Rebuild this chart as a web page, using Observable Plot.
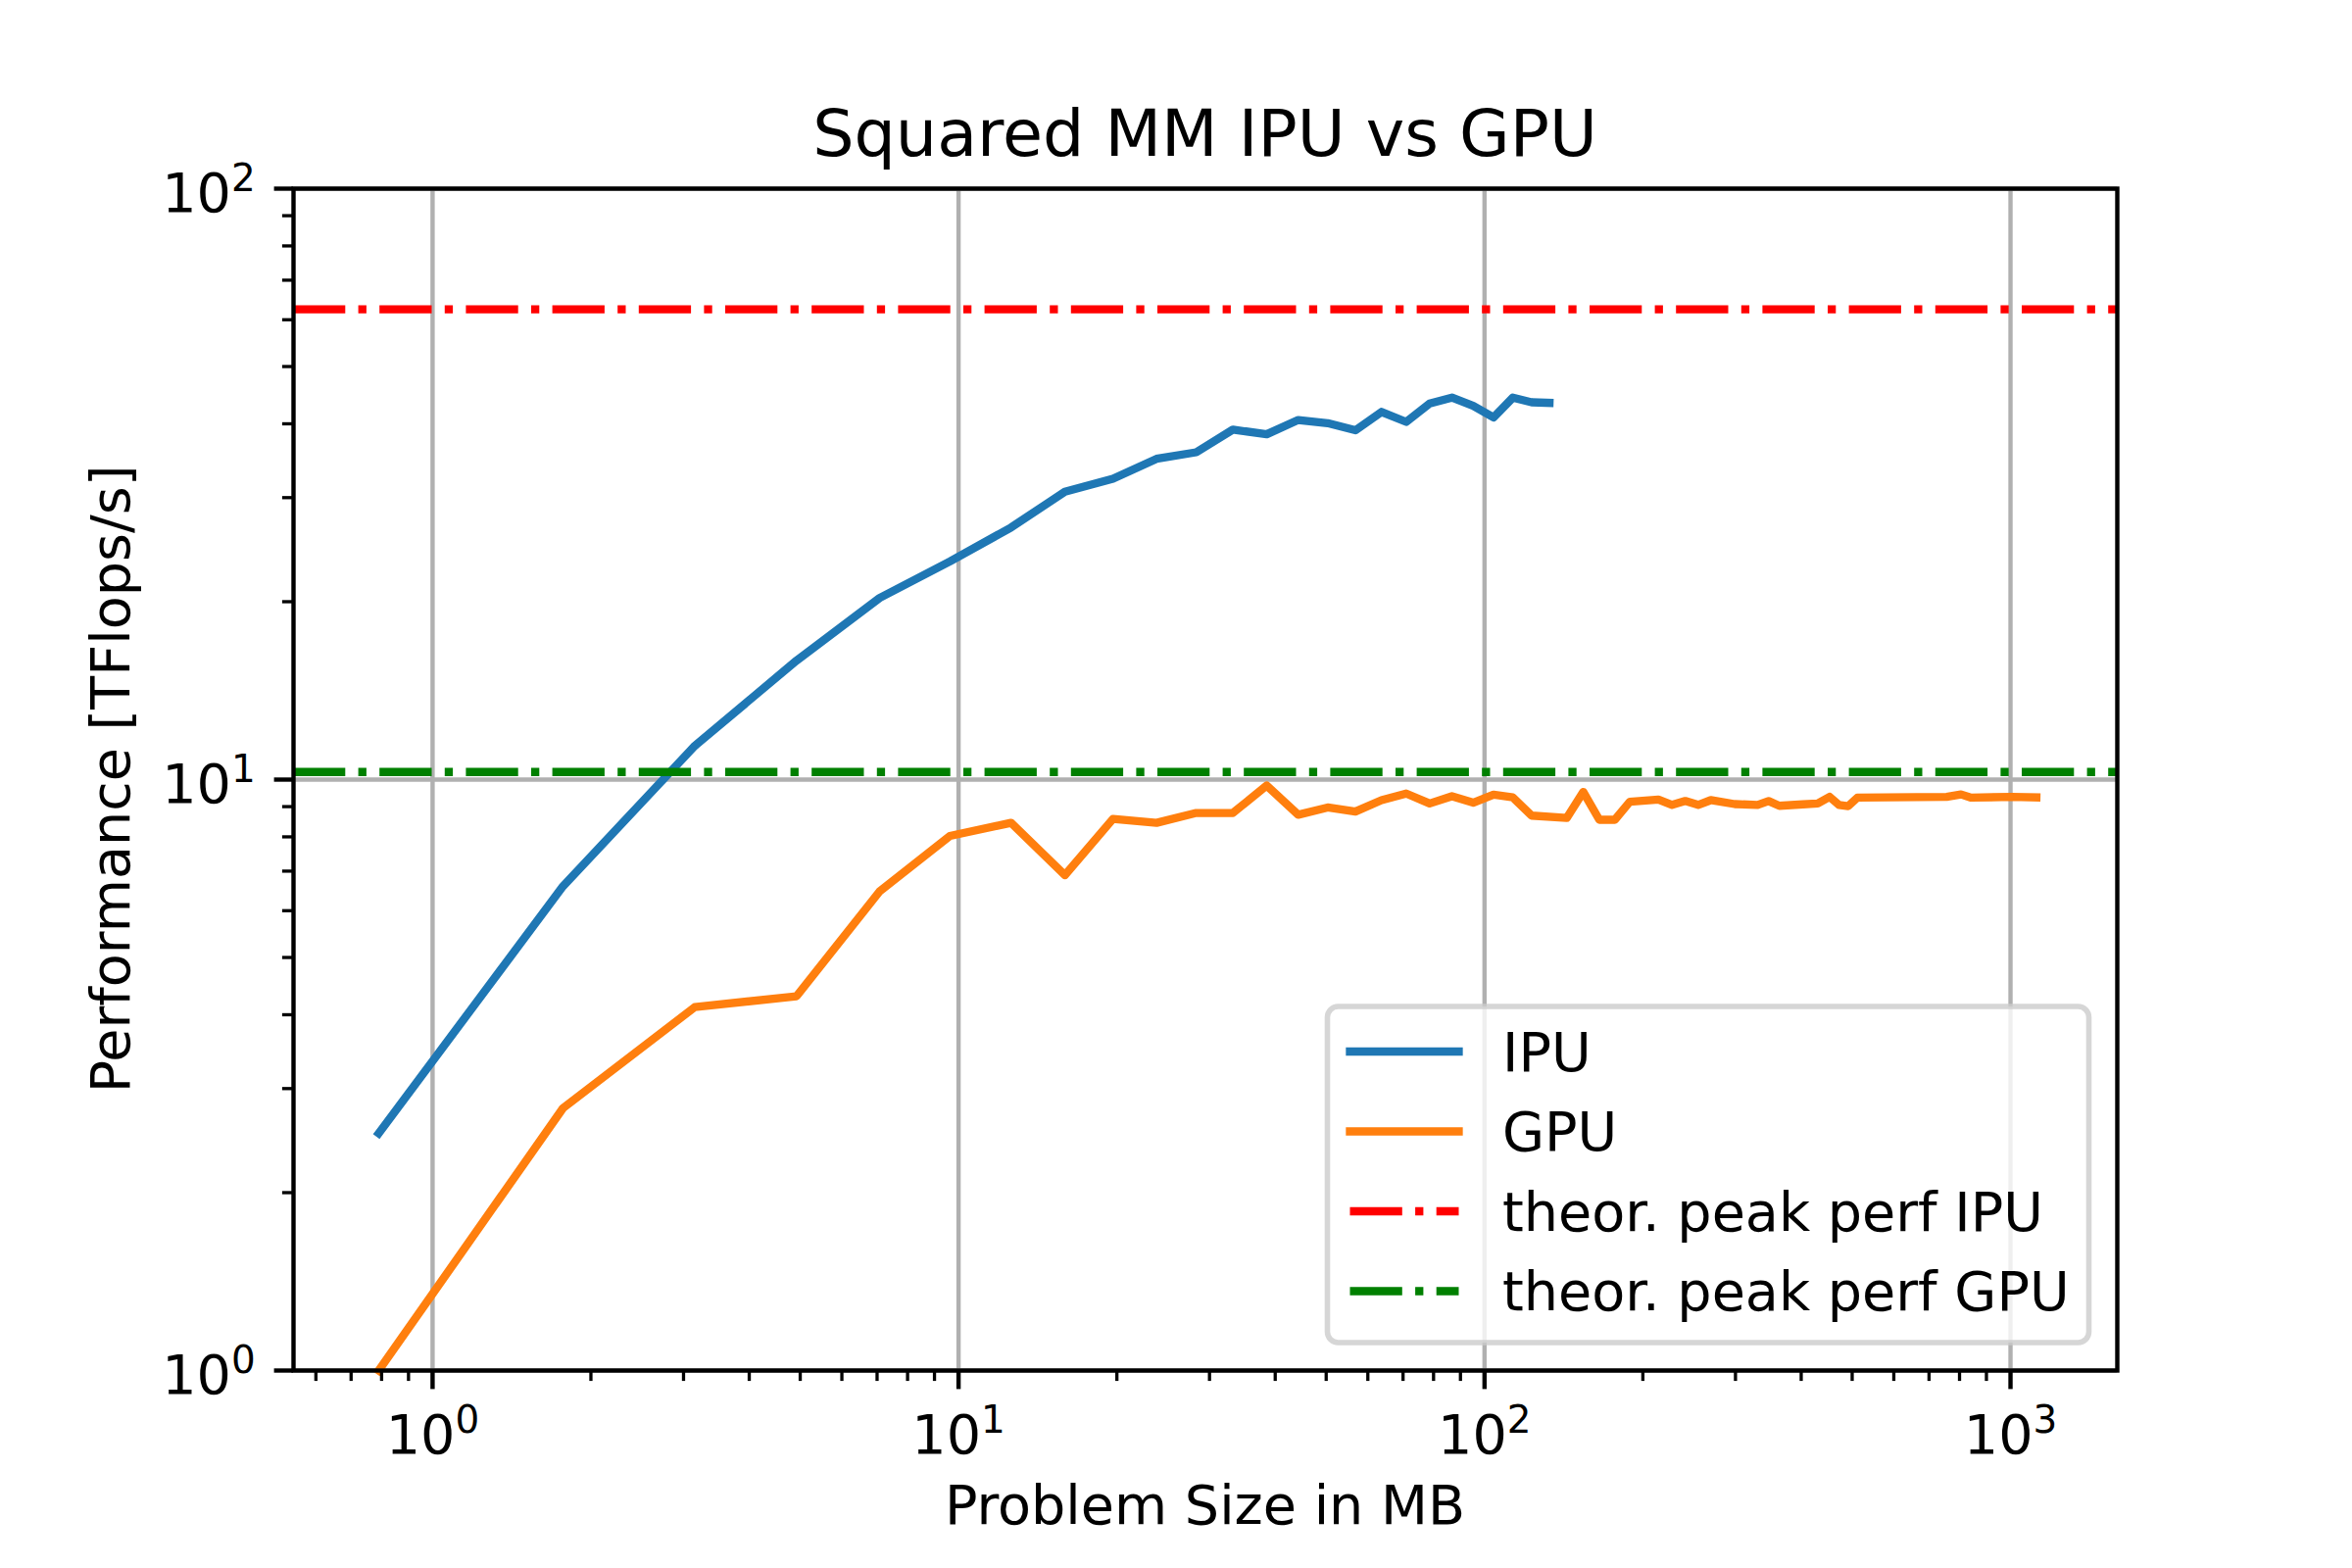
<!DOCTYPE html>
<html>
<head>
<meta charset="utf-8">
<script src="https://cdn.jsdelivr.net/npm/d3@7"></script>
<script src="https://cdn.jsdelivr.net/npm/@observablehq/plot@0.6"></script>
<style>
  html, body { margin: 0; padding: 0; background: #fff; }
  #wrap { position: relative; width: 2400px; height: 1600px; font-family: "DejaVu Sans", sans-serif; }
  #wrap > svg { position: absolute; left: 0; top: 0; }
</style>
</head>
<body>
<div id="wrap"></div>
<script>
// ---- text ----
const title = "Squared MM IPU vs GPU";
const xLabel = "Problem Size in MB";
const yLabel = "Performance [TFlops/s]";
const seriesNames = ["IPU", "GPU", "theor. peak perf IPU", "theor. peak perf GPU"];
const seriesColors = ["#1f77b4", "#ff7f0e", "#ff0000", "#008000"];

// ---- data ----
const ipuSize = [0.79, 1.77, 3.15, 4.92, 7.08, 9.63, 12.58, 15.93, 19.66, 23.79, 28.31, 33.23, 38.54, 44.24, 50.33, 56.82, 63.70, 70.98, 78.64, 86.70, 95.16, 104.0, 113.2, 122.9, 132.9];
const ipuPerf = [2.52, 6.6, 11.4, 15.9, 20.3, 23.4, 26.7, 30.7, 32.3, 34.9, 35.8, 39.1, 38.4, 40.6, 40.1, 39.0, 41.9, 40.3, 43.3, 44.3, 42.9, 41.0, 44.3, 43.5, 43.4];

const gpuSize = [0.79, 1.77, 3.15, 4.92, 7.08, 9.63, 12.58, 15.93, 19.66, 23.79, 28.31, 33.23, 38.54, 44.24, 50.33, 56.82, 63.70, 70.98, 78.64, 86.70, 95.16, 104.0, 113.2, 122.9, 143.3, 154.1, 165.3, 176.9, 188.9, 214.1, 227.3, 240.8, 254.8, 269.2, 299.0, 330.5, 346.8, 363.5, 403.0, 430.0, 453.0, 472.0, 491.5, 511.4, 756.0, 805.3, 842.0, 1006, 1120];
const gpuPerf = [1.0, 2.78, 4.12, 4.30, 6.47, 8.03, 8.45, 6.89, 8.58, 8.45, 8.78, 8.78, 9.77, 8.72, 8.97, 8.83, 9.23, 9.47, 9.11, 9.37, 9.14, 9.43, 9.33, 8.69, 8.61, 9.53, 8.55, 8.55, 9.17, 9.25, 9.06, 9.20, 9.06, 9.23, 9.09, 9.06, 9.20, 9.03, 9.08, 9.11, 9.35, 9.06, 9.02, 9.32, 9.35, 9.44, 9.32, 9.35, 9.33];

const peakPerf = [62.5, 10.3]; // IPU, GPU

// ---- axes ----
const xDomain = [0.544, 1596];
const yDomain = [1, 100];
const xMajorTicks = [1, 10, 100, 1000];
const xMinorTicks = [0.6, 0.7, 0.8, 0.9, 2, 3, 4, 5, 6, 7, 8, 9, 20, 30, 40, 50, 60, 70, 80, 90, 200, 300, 400, 500, 600, 700, 800, 900];
const yMajorTicks = [1, 10, 100];
const yMinorTicks = [2, 3, 4, 5, 6, 7, 8, 9, 20, 30, 40, 50, 60, 70, 80, 90];

// ---- build ----
const W = 2400, H = 1600, ML = 299, MR = 240, MT = 192, MB = 202;
const FS = 55.6, LW = 8.33, DASH = "53.3,13.3,8.3,13.3";
const ipu = ipuSize.map((x, i) => ({x, y: ipuPerf[i]}));
const gpu = gpuSize.map((x, i) => ({x, y: gpuPerf[i]}));
const supFmt = d => `10^${Math.round(Math.log10(d))}`;

const chart = Plot.plot({
  width: W, height: H,
  marginLeft: ML, marginRight: MR, marginTop: MT, marginBottom: MB,
  style: {fontFamily: '"DejaVu Sans", sans-serif', fontSize: FS + "px", background: "white", color: "black"},
  x: {type: "log", domain: xDomain},
  y: {type: "log", domain: yDomain},
  marks: [
    Plot.gridX(xMajorTicks, {stroke: "#b0b0b0", strokeOpacity: 1, strokeWidth: 4.4}),
    Plot.gridY(yMajorTicks, {stroke: "#b0b0b0", strokeOpacity: 1, strokeWidth: 4.4}),
    Plot.line(ipu, {x: "x", y: "y", stroke: seriesColors[0], strokeWidth: LW, strokeLinecap: "square", strokeLinejoin: "round"}),
    Plot.line(gpu, {x: "x", y: "y", stroke: seriesColors[1], strokeWidth: LW, strokeLinecap: "square", strokeLinejoin: "round"}),
    Plot.ruleY([peakPerf[0]], {stroke: seriesColors[2], strokeWidth: LW, strokeDasharray: DASH}),
    Plot.ruleY([peakPerf[1]], {stroke: seriesColors[3], strokeWidth: LW, strokeDasharray: DASH}),
    Plot.axisX(xMinorTicks, {tickSize: 11.1, strokeWidth: 3.3, tickFormat: () => "", label: null}),
    Plot.axisY(yMinorTicks, {tickSize: 11.1, strokeWidth: 3.3, tickFormat: () => "", label: null}),
    Plot.axisX(xMajorTicks, {tickSize: 19.4, tickPadding: 26, strokeWidth: 4.4, tickFormat: supFmt, label: null}),
    Plot.axisY(yMajorTicks, {tickSize: 19.4, tickPadding: 19.4, strokeWidth: 4.4, tickFormat: supFmt, label: null}),
    Plot.frame({stroke: "black", strokeWidth: 4.4})
  ]
});
document.getElementById("wrap").appendChild(chart);

// superscript exponents for tick labels
d3.select(chart).selectAll("text").each(function () {
  const m = /^10\^(-?\d+)$/.exec(this.textContent);
  if (!m) return;
  const g = this.closest("g[aria-label]");
  const isY = g && /y-axis/.test(g.getAttribute("aria-label") || "");
  const dyAttr = this.getAttribute("dy");
  let base = 0;
  if (dyAttr) base = dyAttr.endsWith("em") ? parseFloat(dyAttr) * FS : parseFloat(dyAttr);
  this.removeAttribute("dy");
  const sel = d3.select(this);
  sel.text(null);
  sel.append("tspan").attr("dy", base + (isY ? 6 : 0)).text("10");
  sel.append("tspan").attr("dy", -21.6).attr("font-size", 38.9).text(m[1]);
});

// overlay: title, axis labels, legend
const ov = d3.select("#wrap").append("svg")
  .attr("width", W).attr("height", H)
  .style("font-family", '"DejaVu Sans", sans-serif');
const cx = (ML + (W - MR)) / 2;
ov.append("text").attr("x", cx).attr("y", 159).attr("text-anchor", "middle")
  .attr("font-size", 66.7).attr("fill", "black").text(title);
ov.append("text").attr("x", cx).attr("y", 1555).attr("text-anchor", "middle")
  .attr("font-size", FS).attr("fill", "black").text(xLabel);
ov.append("text").attr("transform", `translate(132,${(MT + (H - MB)) / 2}) rotate(-90)`)
  .attr("text-anchor", "middle").attr("font-size", FS).attr("fill", "black").text(yLabel);

const lg = ov.append("g");
lg.append("rect").attr("x", 1354.5).attr("y", 1027).attr("width", 777).attr("height", 343).attr("rx", 11)
  .attr("fill", "white").attr("fill-opacity", 0.8)
  .attr("stroke", "#cccccc").attr("stroke-opacity", 0.8).attr("stroke-width", 5.56);
seriesNames.forEach((name, i) => {
  const cy = 1073 + i * 81.5;
  const ln = lg.append("line").attr("x1", 1377.5).attr("x2", 1488.5).attr("y1", cy).attr("y2", cy)
    .attr("stroke", seriesColors[i]).attr("stroke-width", LW)
    .attr("stroke-linecap", i < 2 ? "square" : "butt");
  if (i >= 2) ln.attr("stroke-dasharray", DASH);
  lg.append("text").attr("x", 1533).attr("y", cy + 19.5).attr("font-size", FS).attr("fill", "black").text(name);
});
</script>
</body>
</html>
